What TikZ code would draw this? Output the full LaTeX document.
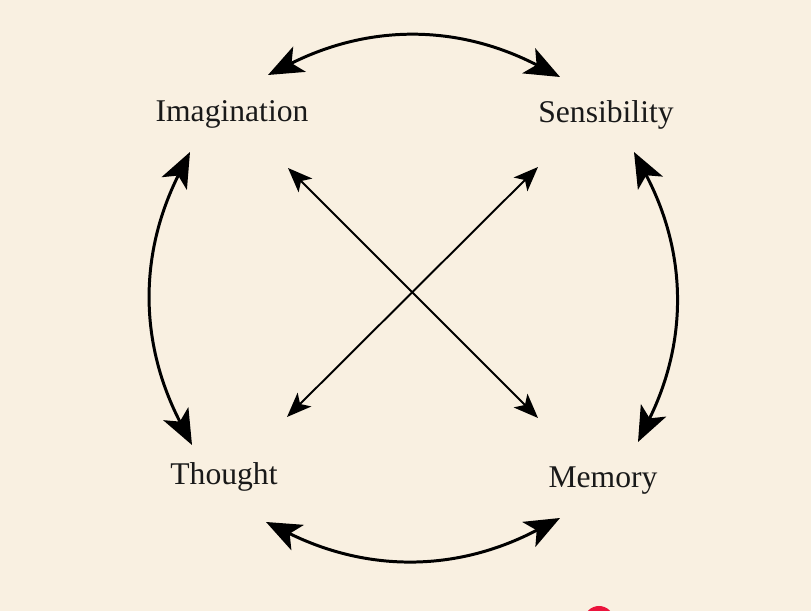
\documentclass[tikz,border=0pt]{standalone}
\usepackage{fontspec}
\setmainfont{Liberation Serif}
\usetikzlibrary{arrows.meta}
\definecolor{paper}{RGB}{249,240,225}
\definecolor{dot}{RGB}{235,20,60}
\begin{document}
\begin{tikzpicture}[x=0.02cm, y=0.02cm]
\tikzstyle{faculty} = [anchor=base, font=\fontsize{18}{21}\selectfont, text=black!90]
\tikzstyle{loop} = [draw=black, line width=1.7pt, {Stealth[length=20pt,width=16pt,inset=5pt]}-{Stealth[length=20pt,width=16pt,inset=5pt]}, bend left=27]
\tikzstyle{cross} = [draw=black, line width=1.1pt, {Stealth[length=14pt,width=11pt,inset=3.5pt]}-{Stealth[length=14pt,width=11pt,inset=3.5pt]}]

\fill[paper] (0,0) rectangle (811,611);
\useasboundingbox (0,0) rectangle (811,611);

\node[faculty] (img) at (232,489) {Imagination};
\node[faculty] (sen) at (606,488) {Sensibility};
\node[faculty] (tho) at (224,126) {Thought};
\node[faculty] (mem) at (603,123) {Memory};

\coordinate (img-r) at (268,536);
\coordinate (img-d) at (190,459);
\coordinate (img-x) at (288,443);
\coordinate (sen-l) at (560,534);
\coordinate (sen-d) at (634,459);
\coordinate (sen-x) at (538,444);
\coordinate (tho-u) at (192,166);
\coordinate (tho-r) at (266,89);
\coordinate (tho-x) at (287,194);
\coordinate (mem-u) at (638,169);
\coordinate (mem-l) at (560,93);
\coordinate (mem-x) at (538,193);

\draw[loop] (img-r) to (sen-l);
\draw[loop] (sen-d) to (mem-u);
\draw[loop] (mem-l) to (tho-r);
\draw[loop] (tho-u) to (img-d);
\draw[cross] (img-x) -- (mem-x);
\draw[cross] (sen-x) -- (tho-x);

\begin{scope}
\clip (0,0) rectangle (811,611);
\fill[dot] (599,-10) circle (15);
\end{scope}
\end{tikzpicture}
\end{document}
